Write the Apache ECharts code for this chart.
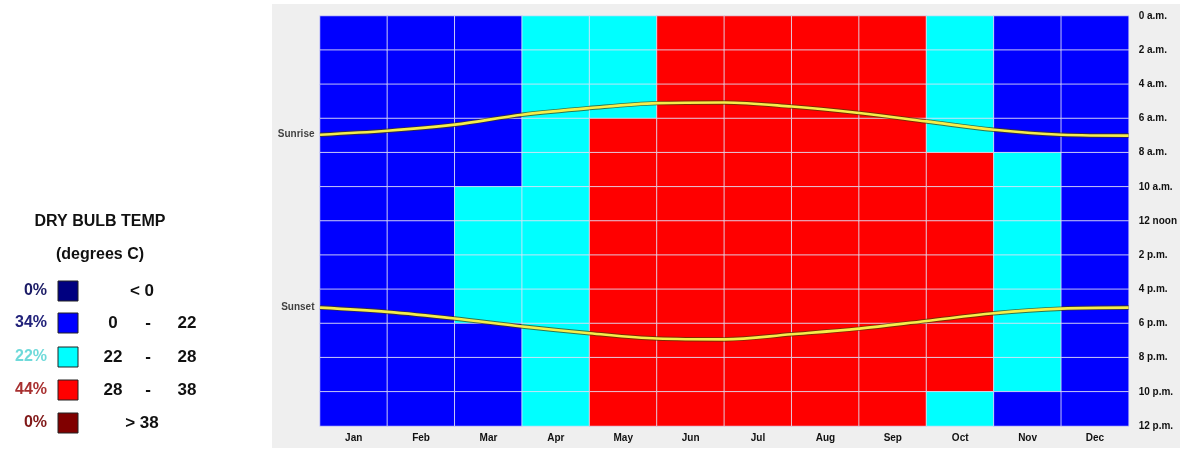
<!DOCTYPE html>
<html>
<head>
<meta charset="utf-8">
<script src="https://cdn.jsdelivr.net/npm/echarts@6/dist/echarts.min.js"></script>
<style>
html,body{margin:0;padding:0;background:#ffffff;}
#chart{width:1180px;height:449px;}
</style>
</head>
<body>
<div id="chart"></div>
<script>
// ---- data ----
const months = ['Jan','Feb','Mar','Apr','May','Jun','Jul','Aug','Sep','Oct','Nov','Dec'];
const hourTickLabels = ['0 a.m.','2 a.m.','4 a.m.','6 a.m.','8 a.m.','10 a.m.','12 noon','2 p.m.','4 p.m.','6 p.m.','8 p.m.','10 p.m.','12 p.m.'];
// temperature band per 2-hour block (0-2h ... 22-24h): 0 "<0", 1 "0-22", 2 "22-28", 3 "28-38", 4 ">38"
const bandJan = [1,1,1,1,1,1,1,1,1,1,1,1];
const bandFeb = [1,1,1,1,1,1,1,1,1,1,1,1];
const bandMar = [1,1,1,1,1,2,2,2,2,1,1,1];
const bandApr = [2,2,2,2,2,2,2,2,2,2,2,2];
const bandMay = [2,2,2,3,3,3,3,3,3,3,3,3];
const bandJun = [3,3,3,3,3,3,3,3,3,3,3,3];
const bandJul = [3,3,3,3,3,3,3,3,3,3,3,3];
const bandAug = [3,3,3,3,3,3,3,3,3,3,3,3];
const bandSep = [3,3,3,3,3,3,3,3,3,3,3,3];
const bandOct = [2,2,2,2,3,3,3,3,3,3,3,2];
const bandNov = [1,1,1,1,2,2,2,2,2,2,2,1];
const bandDec = [1,1,1,1,1,1,1,1,1,1,1,1];
// sunrise / sunset hour at month boundaries (start of Jan ... end of Dec)
const sunriseHours = [6.95,6.72,6.36,5.78,5.39,5.10,5.06,5.30,5.68,6.17,6.66,6.95,7.00];
const sunsetHours  = [17.07,17.32,17.71,18.18,18.57,18.88,18.93,18.63,18.30,17.85,17.40,17.13,17.07];
// legend
const bandLabels = [['< 0'],['0','22'],['22','28'],['28','38'],['> 38']];
const bandColors = ['#000080','#0000ff','#00ffff','#ff0000','#800000'];
const pctColors  = ['#1c1c66','#22227a','#6fdada','#a83030','#801818'];

// ---- build ----
const bandsByMonth = [bandJan,bandFeb,bandMar,bandApr,bandMay,bandJun,bandJul,bandAug,bandSep,bandOct,bandNov,bandDec];
const heatData = [];
const counts = [0,0,0,0,0];
bandsByMonth.forEach((col, m) => col.forEach((b, r) => { heatData.push([m, r, b]); counts[b]++; }));
const total = heatData.length;

const FONT = '"Liberation Sans", Arial, sans-serif';
const graphics = [
  {type:'rect', z:-100, silent:true, shape:{x:272,y:4,width:908,height:444}, style:{fill:'#efefef'}},
  {type:'text', x:100, y:222, style:{text:'DRY BULB TEMP', font:'bold 16px '+FONT, fill:'#111', textAlign:'center', textVerticalAlign:'middle'}},
  {type:'text', x:100, y:255, style:{text:'(degrees C)', font:'bold 16px '+FONT, fill:'#111', textAlign:'center', textVerticalAlign:'middle'}}
];
const rowY = [291,323,357,390,423];
bandLabels.forEach((lab, i) => {
  const y = rowY[i];
  graphics.push({type:'text', x:47, y:y, style:{text:Math.round(counts[i]/total*100)+'%', font:'bold 16px '+FONT, fill:pctColors[i], textAlign:'right', textVerticalAlign:'middle'}});
  graphics.push({type:'rect', shape:{x:58,y:y-10,width:20,height:20}, style:{fill:bandColors[i], stroke:'#222', lineWidth:1}});
  if (lab.length === 1) {
    graphics.push({type:'text', x:142, y:y, style:{text:lab[0], font:'bold 17px '+FONT, fill:'#111', textAlign:'center', textVerticalAlign:'middle'}});
  } else {
    graphics.push({type:'text', x:113, y:y, style:{text:lab[0], font:'bold 17px '+FONT, fill:'#111', textAlign:'center', textVerticalAlign:'middle'}});
    graphics.push({type:'text', x:148, y:y, style:{text:'-', font:'bold 17px '+FONT, fill:'#111', textAlign:'center', textVerticalAlign:'middle'}});
    graphics.push({type:'text', x:187, y:y, style:{text:lab[1], font:'bold 17px '+FONT, fill:'#111', textAlign:'center', textVerticalAlign:'middle'}});
  }
});

const lineBase = {type:'line', xAxisIndex:1, yAxisIndex:1, smooth:0.35, symbol:'none', silent:true, animation:false};
const labelSeries = (h, name) => ({
  type:'scatter', xAxisIndex:1, yAxisIndex:1, silent:true, symbolSize:1, itemStyle:{color:'rgba(0,0,0,0)'},
  data:[[0, h]],
  label:{show:true, position:'left', distance:5, formatter:name, fontFamily:FONT, fontWeight:'bold', fontSize:10, color:'#111'}, z:5
});

const chart = echarts.init(document.getElementById('chart'));
chart.setOption({
  animation:false,
  backgroundColor:'#ffffff',
  textStyle:{fontFamily:FONT},
  grid:{left:320, top:16, right:51, bottom:23},
  xAxis:[
    {type:'category', data:months, position:'bottom', axisLine:{show:false}, axisTick:{show:false}, splitLine:{show:false},
     axisLabel:{fontFamily:FONT, fontWeight:'bold', fontSize:10, color:'#111', margin:7}},
    {type:'value', min:0, max:12, show:false}
  ],
  yAxis:[
    {type:'category', data:hourTickLabels.slice(0,12), inverse:true, show:false},
    {type:'value', min:0, max:24, interval:2, inverse:true, position:'right', axisLine:{show:false}, axisTick:{show:false}, splitLine:{show:false},
     axisLabel:{fontFamily:FONT, fontWeight:'bold', fontSize:10, color:'#111', margin:10, formatter:(v) => hourTickLabels[Math.round(v/2)]}}
  ],
  visualMap:{type:'piecewise', show:false, seriesIndex:0, dimension:2,
    pieces:bandColors.map((c, i) => ({value:i, color:c}))},
  graphic:graphics,
  series:[
    {type:'heatmap', data:heatData, xAxisIndex:0, yAxisIndex:0,
     itemStyle:{borderColor:'rgba(225,225,245,0.85)', borderWidth:1}, emphasis:{disabled:true}},
    Object.assign({}, lineBase, {data:sunriseHours.map((h,i)=>[i,h]), lineStyle:{color:'rgba(70,60,0,0.7)', width:4.5}, z:3}),
    Object.assign({}, lineBase, {data:sunriseHours.map((h,i)=>[i,h]), lineStyle:{color:'#f6ee4a', width:2.6}, z:4}),
    Object.assign({}, lineBase, {data:sunsetHours.map((h,i)=>[i,h]), lineStyle:{color:'rgba(70,60,0,0.7)', width:4.5}, z:3}),
    Object.assign({}, lineBase, {data:sunsetHours.map((h,i)=>[i,h]), lineStyle:{color:'#f6ee4a', width:2.6}, z:4}),
    labelSeries(sunriseHours[0], 'Sunrise'),
    labelSeries(sunsetHours[0], 'Sunset')
  ]
});
</script>
</body>
</html>
